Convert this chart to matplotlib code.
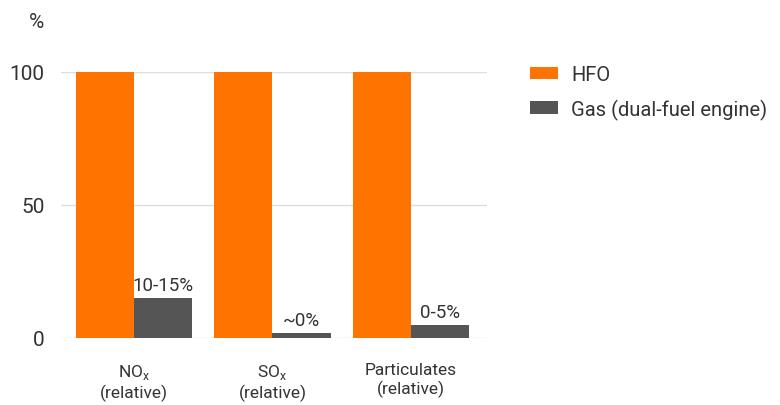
import matplotlib
matplotlib.use("Agg")
import matplotlib.pyplot as plt
import numpy as np

plt.rcParams['font.family'] = ['Roboto', 'DejaVu Sans']

categories = ["NO$_{\\mathregular{x}}$\n(relative)", "SO$_{\\mathregular{x}}$\n(relative)", "Particulates\n(relative)"]
hfo = [100, 100, 100]
gas = [15, 2, 5]
gas_labels = ["10-15%", "~0%", "0-5%"]
series_names = ["HFO", "Gas (dual-fuel engine)"]
yticks = [0, 50, 100]

orange = "#FF7300"
grey = "#555555"
txt = "#333333"

fig = plt.figure(figsize=(7.8, 4.06), dpi=100)
ax = fig.add_axes([61/780, 1-339/406, 426/780, 266/406])
x = np.arange(len(categories))
w = 0.419
b1 = ax.bar(x - w/2, hfo, w, color=orange, label=series_names[0], zorder=3)
b2 = ax.bar(x + w/2, gas, w, color=grey, label=series_names[1], zorder=3)
for xi, v, lab in zip(x, gas, gas_labels):
    ax.text(xi + w/2, v + 1.5, lab, ha="center", va="bottom", fontsize=13.5, color=txt)

ax.set_xlim(-0.527, 2.549)
ax.set_ylim(0, 100)
ax.set_yticks(yticks)
ax.set_yticklabels([str(t) for t in yticks], fontsize=15, color=txt)
ax.yaxis.grid(True, color="#dddddd", linewidth=1, zorder=0)
ax.tick_params(axis="y", length=0, pad=12)
ax.tick_params(axis="x", length=0, pad=17)
ax.set_xticks(x)
ax.set_xticklabels(categories, fontsize=12.5, color=txt, linespacing=1.2)
for s in ax.spines.values():
    s.set_visible(False)
fig.text(37/780, 1-22/406, "%", fontsize=15, color=txt, ha="center", va="center")

leg = fig.legend(handles=[b1, b2], labels=series_names, loc="upper left",
                 bbox_to_anchor=(530/780, 1-66/406), frameon=False, fontsize=14.5,
                 borderpad=0, borderaxespad=0,
                 handlelength=1.4, handleheight=0.6, labelspacing=0.72, handletextpad=0.65)
for t in leg.get_texts():
    t.set_color(txt)

fig.savefig("out.png", dpi=100)
